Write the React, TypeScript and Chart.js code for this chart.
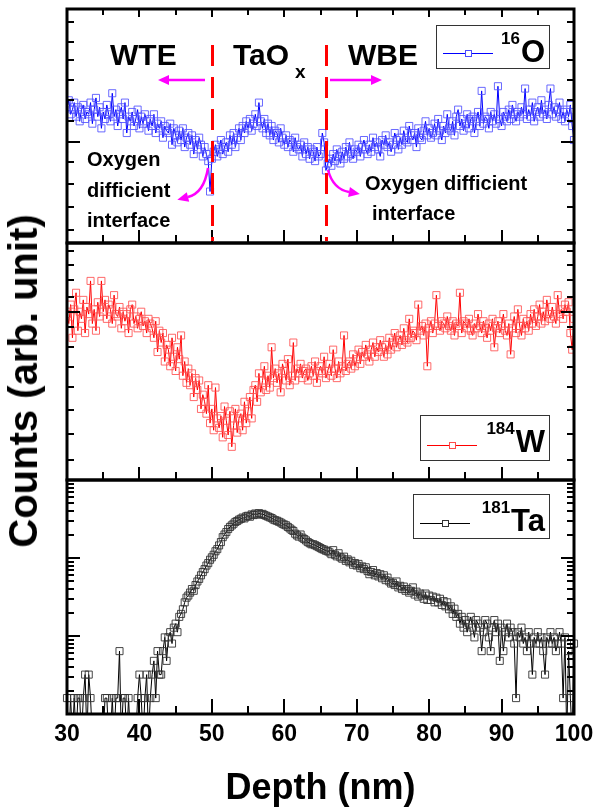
import React, { useEffect, useRef } from "react";
import { Chart, registerables } from "chart.js";

Chart.register(...registerables);

// ---------- data ----------
const DEPTH = [
  30,30.25,30.5,30.75,31,31.25,31.5,31.75,
  32,32.25,32.5,32.75,33,33.25,33.5,33.75,
  34,34.25,34.5,34.75,35,35.25,35.5,35.75,
  36,36.25,36.5,36.75,37,37.25,37.5,37.75,
  38,38.25,38.5,38.75,39,39.25,39.5,39.75,
  40,40.25,40.5,40.75,41,41.25,41.5,41.75,
  42,42.25,42.5,42.75,43,43.25,43.5,43.75,
  44,44.25,44.5,44.75,45,45.25,45.5,45.75,
  46,46.25,46.5,46.75,47,47.25,47.5,47.75,
  48,48.25,48.5,48.75,49,49.25,49.5,49.75,
  50,50.25,50.5,50.75,51,51.25,51.5,51.75,
  52,52.25,52.5,52.75,53,53.25,53.5,53.75,
  54,54.25,54.5,54.75,55,55.25,55.5,55.75,
  56,56.25,56.5,56.75,57,57.25,57.5,57.75,
  58,58.25,58.5,58.75,59,59.25,59.5,59.75,
  60,60.25,60.5,60.75,61,61.25,61.5,61.75,
  62,62.25,62.5,62.75,63,63.25,63.5,63.75,
  64,64.25,64.5,64.75,65,65.25,65.5,65.75,
  66,66.25,66.5,66.75,67,67.25,67.5,67.75,
  68,68.25,68.5,68.75,69,69.25,69.5,69.75,
  70,70.25,70.5,70.75,71,71.25,71.5,71.75,
  72,72.25,72.5,72.75,73,73.25,73.5,73.75,
  74,74.25,74.5,74.75,75,75.25,75.5,75.75,
  76,76.25,76.5,76.75,77,77.25,77.5,77.75,
  78,78.25,78.5,78.75,79,79.25,79.5,79.75,
  80,80.25,80.5,80.75,81,81.25,81.5,81.75,
  82,82.25,82.5,82.75,83,83.25,83.5,83.75,
  84,84.25,84.5,84.75,85,85.25,85.5,85.75,
  86,86.25,86.5,86.75,87,87.25,87.5,87.75,
  88,88.25,88.5,88.75,89,89.25,89.5,89.75,
  90,90.25,90.5,90.75,91,91.25,91.5,91.75,
  92,92.25,92.5,92.75,93,93.25,93.5,93.75,
  94,94.25,94.5,94.75,95,95.25,95.5,95.75,
  96,96.25,96.5,96.75,97,97.25,97.5,97.75,
  98,98.25,98.5,98.75,99,99.25,99.5,99.75,
  100,
];

const O16 = [
  58,61,55,57,60,54,58,52,
  57,59,53,56,55,60,51,57,
  62,54,58,49,56,53,59,55,
  52,64,54,57,50,55,58,53,
  60,47,54,52,56,50,53,57,
  49,54,51,55,52,48,53,50,
  55,47,51,49,52,45,50,48,
  47,51,42,49,46,43,48,44,
  49,41,45,47,42,46,38,44,
  40,45,42,37,41,38,35,22,
  36,39,42,37,40,44,38,41,
  43,39,46,42,47,41,45,49,
  44,50,47,52,49,53,48,51,
  55,50,60,52,49,53,47,51,
  46,50,44,48,47,43,49,45,
  42,46,41,44,43,39,45,41,
  40,42,37,43,38,41,36,40,
  39,35,41,37,38,47,43,31,
  34,36,33,38,35,40,37,34,
  39,36,41,37,43,38,36,40,
  39,42,37,41,44,40,38,42,
  39,45,41,43,40,37,44,42,
  46,41,43,39,42,47,44,40,
  45,42,48,44,43,50,46,44,
  47,41,49,45,44,48,52,46,
  49,45,47,51,46,53,48,44,
  50,47,55,49,48,52,46,54,
  57,50,53,48,51,55,49,53,
  54,47,52,56,50,65,51,54,
  53,49,56,52,55,51,67,53,
  50,56,54,52,57,53,59,55,
  52,56,54,58,55,66,53,57,
  54,60,52,56,58,54,61,55,
  57,53,59,66,55,58,54,57,
  60,53,56,52,57,54,59,50,
  44,
];

const W184 = [
  70,66,74,60,72,79,63,71,
  68,76,62,73,70,84,66,72,
  63,75,69,84,71,76,68,74,
  72,66,78,70,69,73,64,71,
  67,70,62,72,74,66,69,64,
  68,71,65,67,62,68,66,64,
  60,67,54,63,58,62,50,57,
  55,48,60,52,46,56,51,61,
  44,50,41,47,40,45,35,43,
  38,42,30,36,33,28,40,24,
  30,21,39,26,22,27,18,31,
  25,19,29,14,23,30,20,26,
  28,21,33,24,29,35,26,38,
  40,33,45,37,42,48,38,44,
  39,56,43,47,41,45,37,49,
  46,42,51,40,44,58,42,47,
  45,49,43,46,47,42,45,48,
  44,50,41,46,48,45,52,43,
  46,49,44,55,47,43,50,45,
  48,61,46,49,50,47,53,48,
  51,55,49,54,52,57,53,50,
  55,58,52,56,54,59,56,52,
  57,53,60,55,58,62,56,59,
  61,57,64,59,58,68,60,63,
  62,59,74,63,65,61,66,48,
  64,67,62,66,78,65,63,67,
  66,64,69,65,63,67,61,66,
  65,79,62,67,66,64,68,63,
  61,66,64,70,65,62,67,64,
  60,66,63,68,56,64,67,62,
  65,70,63,61,66,53,64,69,
  62,72,65,61,68,64,67,63,
  70,66,72,65,69,74,66,71,
  67,76,70,68,73,69,66,78,
  70,72,68,74,71,75,62,55,
  68,
];

const TA181 = [
  1.6,0.5,1.6,0.5,1.6,0.5,1.6,1.6,
  0.5,1.6,3.2,0.5,3.2,1.6,0.5,0.5,
  0.5,0.5,0.5,0.5,0.5,1.6,1.6,0.5,
  0.5,1.6,0.5,1.6,1.6,6.4,0.5,1.6,
  1.6,0.5,1.6,0.5,0.5,0.5,0.5,1.6,
  3.2,1.6,0.5,1.6,3.2,0.5,1.6,3.2,
  4.8,1.6,6.4,3.2,3.2,6.4,9.6,4.8,
  9.6,11.2,8,12.8,14.4,11.2,17.6,19.2,
  22,27,31,33,36,40,38,45,
  50,54,60,66,72,80,86,95,
  102,110,122,130,145,160,185,200,
  215,235,250,262,275,290,298,310,
  318,330,322,342,348,338,362,355,
  372,360,376,364,368,356,348,340,
  332,325,312,305,300,292,285,275,
  268,262,250,240,230,222,205,195,
  188,200,182,175,168,160,155,150,
  150,146,142,138,134,130,128,124,
  122,118,112,126,110,105,115,102,
  98,104,92,96,88,92,82,86,
  80,84,74,78,72,76,68,62,
  66,70,60,64,58,62,55,60,
  52,56,50,47,48,45,50,42,
  44,40,43,38,40,36,38,42,
  34,37,32,35,33,30,35,29,
  33,29,32,27,31,27,30,25,
  28,24,27,22,24,19.2,22.4,17.6,
  19.2,14.4,17.6,12.8,16,11.2,14.4,17.6,
  12.8,9.6,16,14.4,12.8,6.4,11.2,16,
  14.4,9.6,6.4,12.8,16,11.2,14.4,4.8,
  12.8,6.4,11.2,14.4,9.6,12.8,11.2,8,
  1.6,11.2,9.6,12.8,8,9.6,6.4,11.2,
  8,3.2,9.6,8,11.2,8,9.6,6.4,
  3.2,9.6,8,11.2,8,9.6,6.4,8,
  11.2,8,1.6,9.6,0.5,6.4,1.6,0.5,
  8,
];

const X_TICKS_MAJOR = [30, 40, 50, 60, 70, 80, 90, 100];
const X_TICKS_MINOR = [35, 45, 55, 65, 75, 85, 95];
const O_TICKS_MINOR = [5.6, 15.2, 25.2, 34.5, 52, 61.1, 69.6, 78.2, 86, 94.6];
const O_TICKS_MAJOR = [43.3];
const W_TICKS_MINOR = [8.4, 19.4, 29.5, 39.2, 47.8, 56.2, 64.7, 77.4, 84.4, 90.7, 96.8];
const W_TICKS_MAJOR = [71];
const TA_DECADES = [1, 10, 100, 1000];
const INTERFACES = [50, 65.7];
const X_TITLE = "Depth (nm)";
const Y_TITLE = "Counts (arb. unit)";

const FONT = '"Liberation Sans", Arial, Helvetica, sans-serif';

type TickCfg = {
  minor: number[];
  major: number[];
  topTicks: boolean;
  bottomMajor: number;
  bottomMinor: number;
};

function framePlugin(cfg: TickCfg) {
  return {
    id: "frameTicks",
    afterDatasetsDraw(chart: any) {
      const { ctx, chartArea: a } = chart;
      const xs = chart.scales.x;
      const ys = chart.scales.y;
      ctx.save();
      ctx.strokeStyle = "#000";
      ctx.lineWidth = 2;
      const vLine = (px: number, y0: number, y1: number) => {
        ctx.beginPath();
        ctx.moveTo(px, y0);
        ctx.lineTo(px, y1);
        ctx.stroke();
      };
      const hLine = (py: number, x0: number, x1: number) => {
        ctx.beginPath();
        ctx.moveTo(x0, py);
        ctx.lineTo(x1, py);
        ctx.stroke();
      };
      X_TICKS_MAJOR.forEach((v) => {
        const px = Math.round(xs.getPixelForValue(v));
        vLine(px, a.bottom, a.bottom - cfg.bottomMajor);
        if (cfg.topTicks) vLine(px, a.top, a.top + 8);
      });
      X_TICKS_MINOR.forEach((v) => {
        const px = Math.round(xs.getPixelForValue(v));
        vLine(px, a.bottom, a.bottom - cfg.bottomMinor);
        if (cfg.topTicks) vLine(px, a.top, a.top + 6);
      });
      cfg.minor.forEach((v) => {
        const py = Math.round(ys.getPixelForValue(v));
        hLine(py, a.left, a.left + 7);
        hLine(py, a.right, a.right - 7);
      });
      cfg.major.forEach((v) => {
        const py = Math.round(ys.getPixelForValue(v));
        hLine(py, a.left, a.left + 13);
        hLine(py, a.right, a.right - 13);
      });
      ctx.lineWidth = 3;
      ctx.strokeRect(a.left, a.top, a.right - a.left, a.bottom - a.top);
      ctx.restore();
    },
  };
}

const xAxisPlugin = {
  id: "xAxisText",
  afterDraw(chart: any) {
    const { ctx, chartArea: a } = chart;
    const xs = chart.scales.x;
    ctx.save();
    ctx.fillStyle = "#000";
    ctx.textAlign = "center";
    ctx.textBaseline = "middle";
    ctx.font = `bold 23px ${FONT}`;
    X_TICKS_MAJOR.forEach((v) => {
      ctx.fillText(String(v), xs.getPixelForValue(v), a.bottom + 21);
    });
    ctx.font = `bold 36px ${FONT}`;
    ctx.fillText(X_TITLE, (a.left + a.right) / 2, a.bottom + 75);
    ctx.restore();
  },
};

function drawLegend(
  ctx: CanvasRenderingContext2D,
  x1: number, y1: number, x2: number, y2: number,
  lineColor: string, markColor: string, sup: string, main: string
) {
  ctx.save();
  ctx.fillStyle = "#fff";
  ctx.fillRect(x1, y1, x2 - x1, y2 - y1);
  ctx.strokeStyle = "#333";
  ctx.lineWidth = 1;
  ctx.strokeRect(x1 + 0.5, y1 + 0.5, x2 - x1, y2 - y1);
  const ly = Math.round(y1 + (y2 - y1) * 0.66) + 0.5;
  ctx.strokeStyle = lineColor;
  ctx.beginPath();
  ctx.moveTo(x1 + 7, ly);
  ctx.lineTo(x1 + 57, ly);
  ctx.stroke();
  ctx.fillStyle = "#fff";
  ctx.fillRect(x1 + 29, ly - 3, 6, 6);
  ctx.strokeStyle = markColor;
  ctx.strokeRect(x1 + 29.5, ly - 3, 6, 6);
  ctx.fillStyle = "#000";
  ctx.textBaseline = "alphabetic";
  ctx.font = `bold 31px ${FONT}`;
  const wm = ctx.measureText(main).width;
  const mx = x2 - 4 - wm;
  ctx.textAlign = "left";
  ctx.fillText(main, mx, y1 + 37);
  ctx.font = `bold 17px ${FONT}`;
  ctx.textAlign = "right";
  ctx.fillText(sup, mx - 1, y1 + 19);
  ctx.restore();
}

function arrowHead(ctx: CanvasRenderingContext2D, bx: number, by: number, dx: number, dy: number, len: number, half: number) {
  const n = Math.hypot(dx, dy);
  const ux = dx / n, uy = dy / n;
  const tx = bx + ux * len, ty = by + uy * len;
  ctx.beginPath();
  ctx.moveTo(tx, ty);
  ctx.lineTo(bx - uy * half, by + ux * half);
  ctx.lineTo(bx + uy * half, by - ux * half);
  ctx.closePath();
  ctx.fill();
}

const annotationPlugin = {
  id: "annot",
  afterDraw(chart: any) {
    const { ctx, chartArea: a } = chart;
    const xs = chart.scales.x;
    ctx.save();
    ctx.strokeStyle = "#ff0000";
    ctx.lineWidth = 3;
    ctx.setLineDash([21, 11]);
    INTERFACES.forEach((d) => {
      const px = Math.round(xs.getPixelForValue(d)) + 0.5;
      ctx.beginPath();
      ctx.moveTo(px, 45);
      ctx.lineTo(px, a.bottom - 2);
      ctx.stroke();
    });
    ctx.setLineDash([]);
    ctx.fillStyle = "#000";
    ctx.textBaseline = "alphabetic";
    ctx.textAlign = "left";
    ctx.font = `bold 30px ${FONT}`;
    ctx.fillText("WTE", 110, 65);
    ctx.fillText("TaO", 233, 65);
    ctx.fillText("WBE", 348, 65);
    ctx.font = `bold 19px ${FONT}`;
    ctx.fillText("x", 295, 78);
    ctx.strokeStyle = "#ff00ff";
    ctx.fillStyle = "#ff00ff";
    ctx.lineWidth = 2.5;
    ctx.beginPath();
    ctx.moveTo(205, 80);
    ctx.lineTo(168, 80);
    ctx.stroke();
    arrowHead(ctx, 169, 80, -1, 0, 11, 5);
    ctx.beginPath();
    ctx.moveTo(330, 80);
    ctx.lineTo(372, 80);
    ctx.stroke();
    arrowHead(ctx, 371, 80, 1, 0, 11, 5);
    ctx.beginPath();
    ctx.moveTo(208, 168);
    ctx.quadraticCurveTo(204, 193, 188, 197);
    ctx.stroke();
    arrowHead(ctx, 188, 197, -16, 4, 11, 5);
    ctx.beginPath();
    ctx.moveTo(328, 170);
    ctx.quadraticCurveTo(333, 189, 349, 192);
    ctx.stroke();
    arrowHead(ctx, 349, 192, 16, 3, 11, 5);
    ctx.fillStyle = "#000";
    ctx.font = `bold 20px ${FONT}`;
    ctx.fillText("Oxygen", 87, 166);
    ctx.fillText("difficient", 87, 197);
    ctx.fillText("interface", 87, 227);
    ctx.fillText("Oxygen difficient", 365, 190);
    ctx.fillText("interface", 372, 220);
    ctx.restore();
    drawLegend(ctx, a.right - 138, a.top + 16, a.right - 25, a.top + 59, "#0000ff", "#4a4aff", "16", "O");
  },
};

const legendW = {
  id: "legW",
  afterDraw(chart: any) {
    const a = chart.chartArea;
    drawLegend(chart.ctx, a.right - 154, a.bottom - 65, a.right - 25, a.bottom - 20, "#ff0000", "#ff4a4a", "184", "W");
  },
};

const legendTa = {
  id: "legTa",
  afterDraw(chart: any) {
    const a = chart.chartArea;
    drawLegend(chart.ctx, a.right - 161, a.top + 14, a.right - 25, a.top + 58, "#000000", "#333333", "181", "Ta");
  },
};

function series(values: number[]) {
  return DEPTH.map((d, i) => ({ x: d, y: values[i] }));
}

function baseOptions(padding: any, yScale: any) {
  return {
    responsive: false,
    animation: false as const,
    events: [] as any[],
    layout: { padding },
    plugins: { legend: { display: false }, tooltip: { enabled: false }, title: { display: false } },
    scales: {
      x: { type: "linear", min: 30, max: 100, display: false, ticks: { stepSize: 10 } },
      y: yScale,
    },
  };
}

function dataset(values: number[], line: string, mark: string, clip?: any) {
  const ds: any = {
    data: series(values),
    borderColor: line,
    borderWidth: 1,
    pointStyle: "rect",
    pointRadius: 5,
    pointBorderWidth: 1,
    pointBorderColor: mark,
    pointBackgroundColor: "rgba(0,0,0,0)",
    tension: 0,
    fill: false,
  };
  if (clip) ds.clip = clip;
  return ds;
}

export default function App() {
  const c1 = useRef<HTMLCanvasElement>(null);
  const c2 = useRef<HTMLCanvasElement>(null);
  const c3 = useRef<HTMLCanvasElement>(null);

  useEffect(() => {
    document.body.style.margin = "0";
    const ch1 = new Chart(c1.current as HTMLCanvasElement, {
      type: "line",
      data: { datasets: [dataset(O16, "#0000ff", "rgba(80,80,255,0.85)")] },
      options: baseOptions(
        { left: 67, right: 26, top: 9, bottom: 7 },
        { type: "linear", min: 0, max: 100, display: false }
      ) as any,
      plugins: [
        framePlugin({ minor: O_TICKS_MINOR, major: O_TICKS_MAJOR, topTicks: true, bottomMajor: 13, bottomMinor: 8 }),
        annotationPlugin,
      ],
    });
    const ch2 = new Chart(c2.current as HTMLCanvasElement, {
      type: "line",
      data: { datasets: [dataset(W184, "#ff0000", "rgba(255,80,80,0.85)")] },
      options: baseOptions(
        { left: 67, right: 26, top: 7, bottom: 7 },
        { type: "linear", min: 0, max: 100, display: false }
      ) as any,
      plugins: [
        framePlugin({ minor: W_TICKS_MINOR, major: W_TICKS_MAJOR, topTicks: false, bottomMajor: 13, bottomMinor: 8 }),
        legendW,
      ],
    });
    const taMinor: number[] = [];
    TA_DECADES.slice(0, -1).forEach((dec) => {
      for (let k = 2; k <= 9; k++) taMinor.push(dec * k);
    });
    const ch3 = new Chart(c3.current as HTMLCanvasElement, {
      type: "line",
      data: { datasets: [dataset(TA181, "#000000", "rgba(50,50,50,0.9)", { left: 5, right: 5, top: 5, bottom: 0 })] },
      options: baseOptions(
        { left: 67, right: 26, top: 7, bottom: 97 },
        { type: "logarithmic", min: 1, max: 1000, display: false }
      ) as any,
      plugins: [
        framePlugin({ minor: taMinor, major: TA_DECADES, topTicks: false, bottomMajor: 15, bottomMinor: 8 }),
        legendTa,
        xAxisPlugin,
      ],
    });
    return () => {
      ch1.destroy();
      ch2.destroy();
      ch3.destroy();
    };
  }, []);

  return (
    <div style={{ position: "relative", width: 600, height: 811, background: "#fff", overflow: "hidden" }}>
      <canvas ref={c1} width={600} height={250} style={{ position: "absolute", left: 0, top: 0 }} />
      <canvas ref={c2} width={600} height={251} style={{ position: "absolute", left: 0, top: 236 }} />
      <canvas ref={c3} width={600} height={338} style={{ position: "absolute", left: 0, top: 473 }} />
      <div
        style={{
          position: "absolute",
          left: 23,
          top: 381,
          transform: "translate(-50%, -50%) rotate(-90deg)",
          font: `bold 40px ${FONT}`,
          whiteSpace: "nowrap",
          color: "#000",
          lineHeight: 1,
        }}
      >
        {Y_TITLE}
      </div>
    </div>
  );
}
